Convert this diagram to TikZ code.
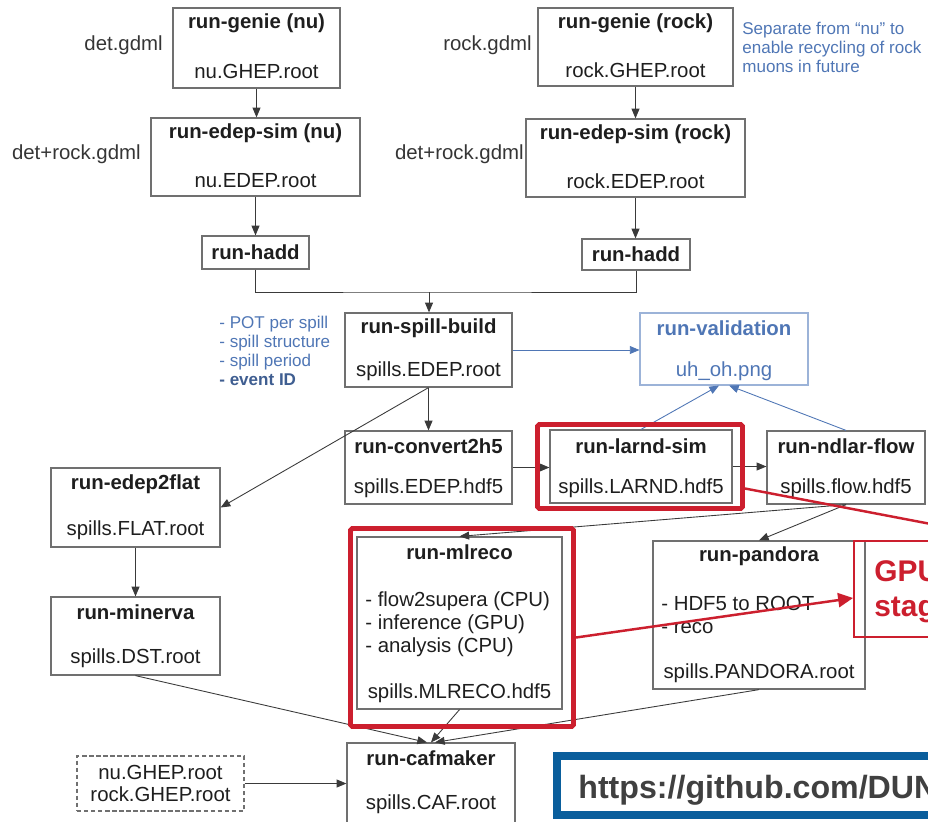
\documentclass[tikz,border=0pt]{standalone}
\usepackage{fontspec}
\setmainfont{Liberation Sans}
\usetikzlibrary{positioning,calc,fit,arrows.meta}

\definecolor{ink}{HTML}{1E1E1E}
\definecolor{boxgray}{HTML}{707070}
\definecolor{linegray}{HTML}{3A3A3A}
\definecolor{valblue}{HTML}{4F76B5}
\definecolor{valframe}{HTML}{9CB3D8}
\definecolor{notered}{HTML}{CC1F2E}
\definecolor{urlblue}{HTML}{0A5E9C}
\definecolor{urltext}{HTML}{404040}

\tikzset{
  box/.style={draw=boxgray, line width=0.7pt, inner sep=0pt},
  ttl/.style={font=\fontsize{11.6}{13}\selectfont\bfseries, text=ink, inner sep=0pt},
  fil/.style={font=\fontsize{11.6}{13}\selectfont, text=ink, inner sep=0pt},
  lbl/.style={font=\fontsize{11.6}{13}\selectfont, text=ink!90, inner sep=0pt},
  note/.style={font=\fontsize{9.7}{10.8}\selectfont, text=valblue, inner sep=0pt, align=left},
  flow/.style={draw=linegray, line width=0.5pt, -{Triangle[length=5.5pt,width=4.5pt]}},
  vflow/.style={draw=valblue, line width=0.5pt, -{Triangle[length=5.5pt,width=4.5pt]}},
  hl/.style={draw=notered, line width=2.8pt, rounded corners=1pt, inner sep=0pt},
  redarr/.style={draw=notered, line width=1.4pt, -{Triangle[length=8.5pt,width=8pt]}},
}

\begin{document}
\begin{tikzpicture}[x=0.02cm, y=-0.02cm]
    \useasboundingbox (0,0) rectangle (928,821);
    \clip (0,0) rectangle (928,821);

    % nu chain
    \node[box, fit={(173,8)(340,88)}] (gn) {};
    \node[ttl] (gn-t) at ($(gn.north)+(0,16)$) {run-genie (nu)};
    \node[fil] (gn-f) at ($(gn.south)+(0,-17)$) {nu.GHEP.root};
    \node[lbl, anchor=east] (gn-g) at (163,45) {det.gdml};

    \node[box, fit={(151,118)(360,196)}] (en) {};
    \node[ttl] (en-t) at ($(en.north)+(0,16)$) {run-edep-sim (nu)};
    \node[fil] (en-f) at ($(en.south)+(0,-16)$) {nu.EDEP.root};
    \node[lbl, anchor=east] (en-g) at (141,154) {det+rock.gdml};

    \node[box, fit={(202,236)(309,269)}] (hn) {};
    \node[ttl] (hn-t) at (hn) {run-hadd};

    % rock chain
    \node[box, fit={(538,8)(733,86)}] (gr) {};
    \node[ttl] (gr-t) at ($(gr.north)+(0,16)$) {run-genie (rock)};
    \node[fil] (gr-f) at ($(gr.south)+(0,-16)$) {rock.GHEP.root};
    \node[lbl, anchor=east] (gr-g) at (532,45) {rock.gdml};
    \node[note, anchor=west] (gr-n) at (742,47) {Separate from “nu” to\\enable recycling of rock\\muons in future};

    \node[box, fit={(526,119)(745,197)}] (er) {};
    \node[ttl] (er-t) at ($(er.north)+(0,16)$) {run-edep-sim (rock)};
    \node[fil] (er-f) at ($(er.south)+(0,-16)$) {rock.EDEP.root};
    \node[lbl, anchor=east] (er-g) at (524,154) {det+rock.gdml};

    \node[box, fit={(582,239)(690,270)}] (hr) {};
    \node[ttl] (hr-t) at (hr) {run-hadd};

    % spills
    \node[box, fit={(345,313)(512,387)}] (sb) {};
    \node[ttl] (sb-t) at ($(sb.north)+(0,16)$) {run-spill-build};
    \node[fil] (sb-f) at ($(sb.south)+(0,-16)$) {spills.EDEP.root};
    \node[note, anchor=west] (sb-n) at (219,351) {- POT per spill\\- spill structure\\- spill period\\{\bfseries\color{valblue!80!black}- event ID}};

    \node[draw=valframe, line width=0.6pt, inner sep=0pt, fit={(640,313)(808,385)}] (val) {};
    \node[ttl, text=valblue] (val-t) at ($(val.north)+(0,16)$) {run-validation};
    \node[fil, text=valblue] (val-f) at ($(val.south)+(0,-14)$) {uh\_oh.png};

    \node[box, fit={(345,431)(512,504)}] (cv) {};
    \node[ttl] (cv-t) at ($(cv.north)+(0,16)$) {run-convert2h5};
    \node[fil] (cv-f) at ($(cv.south)+(0,-16)$) {spills.EDEP.hdf5};

    \node[box, fit={(550,430)(732,503)}] (ls) {};
    \node[ttl] (ls-t) at ($(ls.north)+(0,17)$) {run-larnd-sim};
    \node[fil] (ls-f) at ($(ls.south)+(0,-15)$) {spills.LARND.hdf5};

    \node[box, fit={(767,431)(925,504)}] (nf) {};
    \node[ttl] (nf-t) at ($(nf.north)+(0,16)$) {run-ndlar-flow};
    \node[fil] (nf-f) at ($(nf.south)+(0,-16)$) {spills.flow.hdf5};

    % left branch
    \node[box, fit={(51,468)(220,547)}] (e2f) {};
    \node[ttl] (e2f-t) at ($(e2f.north)+(0,17)$) {run-edep2flat};
    \node[fil] (e2f-f) at ($(e2f.south)+(0,-17)$) {spills.FLAT.root};

    \node[box, fit={(51,597)(220,675)}] (mn) {};
    \node[ttl] (mn-t) at ($(mn.north)+(0,16)$) {run-minerva};
    \node[fil] (mn-f) at ($(mn.south)+(0,-17)$) {spills.DST.root};

    % reco
    \node[box, fit={(357,537)(562,709)}] (ml) {};
    \node[ttl] (ml-t) at ($(ml.north)+(0,16)$) {run-mlreco};
    \node[fil, anchor=west, align=left] (ml-s) at (365,624) {- flow2supera (CPU)\\- inference (GPU)\\- analysis (CPU)};
    \node[fil] (ml-f) at ($(ml.south)+(0,-16)$) {spills.MLRECO.hdf5};

    \node[box, fit={(653,541)(865,689)}] (pan) {};
    \node[ttl] (pan-t) at ($(pan.north)+(0,16)$) {run-pandora};
    \node[fil, anchor=west, align=left, font=\fontsize{11.6}{13.6}\selectfont] (pan-s) at (661,615) {- HDF5 to ROOT\\- reco};
    \node[fil] (pan-f) at ($(pan.south)+(0,-16)$) {spills.PANDORA.root};

    % caf
    \node[box, fit={(347,743)(515,830)}] (caf) {};
    \node[ttl] (caf-t) at ($(caf.north)+(0,16)$) {run-cafmaker};
    \node[fil] (caf-f) at ($(caf.north)+(0,62)$) {spills.CAF.root};

    \node[box, dash pattern=on 2.5pt off 1.5pt, fit={(77,756)(244,811)}] (dg) {};
    \node[fil, align=center] (dg-t) at (dg) {nu.GHEP.root\\rock.GHEP.root};

    % connectors
    \draw[flow] (gn.south) -- (gn.south |- en.north);
    \draw[flow] (en.south) -- (en.south |- hn.north);
    \draw[flow] (gr.south) -- (gr.south |- er.north);
    \draw[flow] (er.south) -- (er.south |- hr.north);
    \coordinate (join) at (429,292);
    \draw[draw=linegray, line width=0.5pt] (hn.south) |- (join) -| (hr.south);
    \draw[flow] (join) -- (join |- sb.north);

    \draw[vflow] (sb.east) -- (sb.east -| val.west);
    \draw[vflow] (ls.north) -- ($(val.south)+(-5,0)$);
    \draw[vflow] (nf.north) -- ($(val.south)+(5,0)$);

    \draw[flow] (sb.south) -- (sb.south |- cv.north);
    \draw[flow] (sb.south) -- (e2f.east);
    \draw[flow] (cv.east) -- (cv.east -| ls.west);
    \draw[flow] (ls.east) -- (ls.east -| nf.west);
    \draw[flow] (nf.south) -- (ml.north);
    \draw[flow] (nf.south) -- (pan.north);
    \draw[flow] (e2f.south) -- (mn.north);
    \draw[flow] (mn.south) -- ($(caf.north)+(-4,0)$);
    \draw[flow] (ml.south) -- (caf.north);
    \draw[flow] (pan.south) -- ($(caf.north)+(4,0)$);
    \draw[flow] (dg.east) -- (dg.east -| caf.west);

    % GPU highlight
    \node[hl, fit={(537.5,424.5)(742.5,508.5)}] (lsr) {};
    \node[hl, fit={(350.5,528.5)(573.5,726.5)}] (mlr) {};
    \node[draw=notered, line width=1.1pt, inner sep=0pt, fit={(854,541)(1014,637)}] (gpu) {};
    \node[anchor=west, align=left, inner sep=0pt, text=notered, font=\fontsize{17}{20}\selectfont\bfseries] (gpu-t) at (874,592) {GPU\\stages};
    \draw[redarr] ($(mlr.east)+(0,10)$) -- ($(gpu.west)+(0,9)$);
    \draw[redarr] ($(lsr.east)+(0,22)$) -- (gpu.north east);

    % repo link
    \node[draw=urlblue, fill=white, line width=4.5pt, inner sep=0pt, fit={(557,756)(1040,815)}] (url) {};
    \node[anchor=base west, inner sep=0pt, text=urltext, font=\fontsize{18.3}{21}\selectfont\bfseries] (url-t) at (578,798) {https://github.com/DUNE/2x2\_sim};
\end{tikzpicture}
\end{document}
